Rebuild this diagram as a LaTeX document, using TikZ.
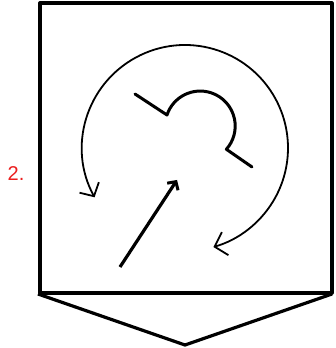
\documentclass[tikz,border=0pt]{standalone}
\usepackage{fontspec}
\setmainfont{Liberation Sans}
\usetikzlibrary{arrows.meta,calc}
\definecolor{steplbl}{RGB}{235,30,30}

\begin{document}
\begin{tikzpicture}[x=1pt, y=1pt,
    frame/.style={line width=3.2pt, line join=round},
    turn/.style={line width=1.8pt,
        {Straight Barb[length=10pt, width=22pt, line width=1.8pt]}-{Straight Barb[length=11pt, width=24pt, line width=1.8pt]}},
    knot/.style={line width=3pt, line join=round, line cap=round},
    push/.style={line width=3.2pt, -{Straight Barb[length=6pt, width=13pt, line width=3pt]}}]

    \useasboundingbox (0,0) rectangle (335,348);

    % frame and pointer below it
    \draw[frame] (40,55) rectangle (332,345);
    \draw[frame] (38,54) -- (185,3) -- (332,54);
    \node[font=\fontsize{20}{24}\selectfont, text=steplbl] (num) at (16,174) {2.};

    % circular arrow round the centre
    \coordinate (hub) at (185,200);
    \draw[turn] ($(hub)+(208.6:103)$) arc[start angle=208.6, end angle=-74, radius=103];

    % inner hook
    \coordinate (hookA) at (135,254);
    \coordinate (hookB) at (167,233);
    \coordinate (hookC) at (252,181);
    \draw[knot] (hookA) -- (hookB) arc[start angle=161.6, end angle=-41.6, radius=35] -- (hookC);

    % straight arrow
    \coordinate (tail) at (120,81);
    \coordinate (head) at (177,168);
    \draw[push] (tail) -- (head);
\end{tikzpicture}
\end{document}
